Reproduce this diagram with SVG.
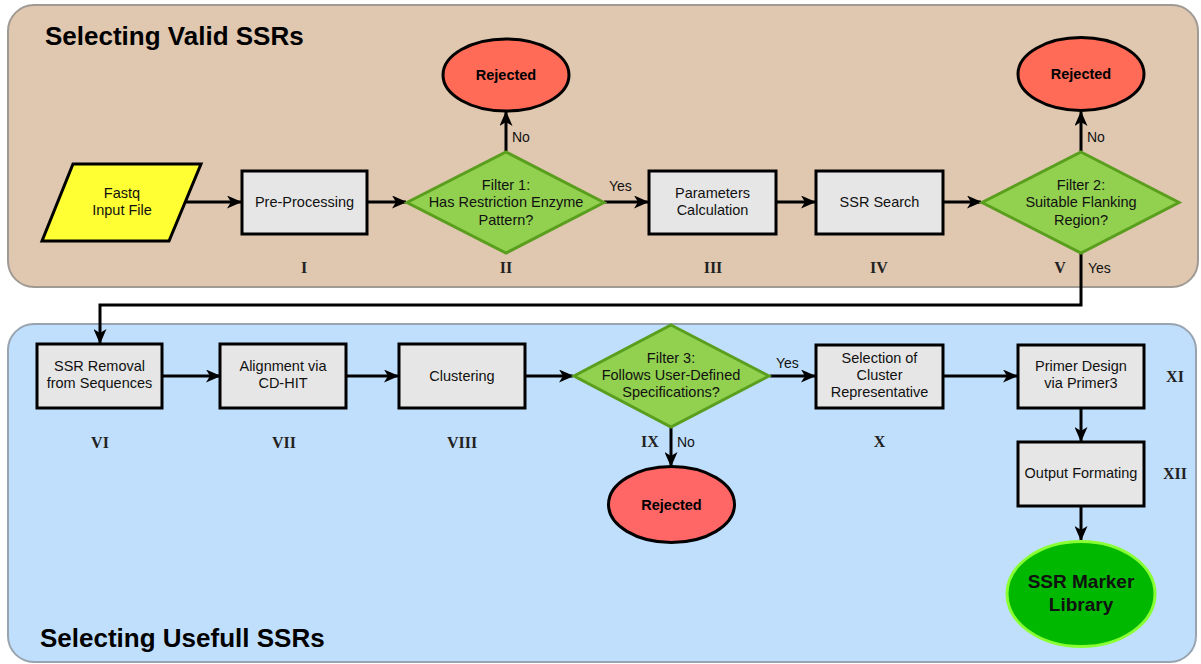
<svg xmlns="http://www.w3.org/2000/svg" width="1201" height="664" viewBox="0 0 1201 664">
<defs>
<marker id="arr" viewBox="0 0 15 13" refX="14" refY="6.5" markerWidth="15" markerHeight="13" markerUnits="userSpaceOnUse" orient="auto">
<path d="M0,0 L15,6.5 L0,13 L4,6.5 Z" fill="#000"/>
</marker>
<style>
text{font-family:"Liberation Sans",Arial,sans-serif;fill:#111}
.t{font-size:14.5px;text-anchor:middle}
.lbl{font-size:14px}
.title{font-size:26px;font-weight:bold;fill:#000}
.rom{font-family:"Liberation Serif","Times New Roman",serif;font-size:16px;font-weight:bold;text-anchor:middle;fill:#222}
.box{fill:#E6E6E6;stroke:#000;stroke-width:3}
.dia{fill:#92D050;stroke:#5A9E1E;stroke-width:3}
.rej{stroke:#000;stroke-width:3}
.rt{font-size:14.5px;font-weight:bold;text-anchor:middle;fill:#000}
.con{fill:none;stroke:#000;stroke-width:3;marker-end:url(#arr)}
</style>
</defs>
<g id="panel-top">
<rect x="8" y="5" width="1190" height="282" rx="26" fill="#DFC7B0" stroke="#A09A94" stroke-width="2"/>
<text class="title" x="45" y="45">Selecting Valid SSRs</text>
</g>
<g id="panel-bottom">
<rect x="8" y="324" width="1188" height="338" rx="26" fill="#C0DFFD" stroke="#98A4B0" stroke-width="2"/>
<text class="title" x="40" y="647">Selecting Usefull SSRs</text>
</g>
<g id="connectors">
<line class="con" x1="185" y1="202" x2="241" y2="202"/>
<line class="con" x1="367" y1="202" x2="406" y2="202"/>
<line class="con" x1="506" y1="151" x2="506" y2="112"/>
<line class="con" x1="604" y1="202" x2="648" y2="202"/>
<line class="con" x1="776" y1="202" x2="815" y2="202"/>
<line class="con" x1="943" y1="202" x2="981" y2="202"/>
<line class="con" x1="1081" y1="151" x2="1081" y2="112"/>
<path class="con" d="M1081,253 V305 H100 V343"/>
<line class="con" x1="162" y1="376" x2="220" y2="376"/>
<line class="con" x1="346" y1="376" x2="398" y2="376"/>
<line class="con" x1="525" y1="376" x2="573" y2="376"/>
<line class="con" x1="770" y1="376" x2="815" y2="376"/>
<line class="con" x1="671" y1="427" x2="671" y2="466"/>
<line class="con" x1="943" y1="376" x2="1017" y2="376"/>
<line class="con" x1="1081" y1="408" x2="1081" y2="441"/>
<line class="con" x1="1081" y1="506" x2="1081" y2="540"/>
<text class="lbl" x="512" y="142">No</text>
<text class="lbl" x="609" y="191">Yes</text>
<text class="lbl" x="1087" y="142">No</text>
<text class="lbl" x="1088" y="273">Yes</text>
<text class="lbl" x="776" y="368">Yes</text>
<text class="lbl" x="677" y="447">No</text>
</g>
<g id="n-fastq">
<polygon points="73,164 201,164 169,241 42,241" fill="#FFFF33" stroke="#000" stroke-width="3"/>
<text class="t" x="122" y="198">Fastq</text>
<text class="t" x="122" y="215">Input File</text>
</g>
<g id="n-preproc">
<rect class="box" x="242" y="171" width="125" height="63"/>
<text class="t" x="304.5" y="207">Pre-Processing</text>
<text class="rom" x="304" y="273">I</text>
</g>
<g id="n-filter1">
<polygon class="dia" points="506,152 604,202.5 506,253 407,202.5"/>
<text class="t" x="506" y="190">Filter 1:</text>
<text class="t" x="506" y="207">Has Restriction Enzyme</text>
<text class="t" x="506" y="225">Pattern?</text>
<text class="rom" x="506" y="273">II</text>
</g>
<g id="n-rej1">
<ellipse class="rej" cx="506" cy="75" rx="63" ry="36" fill="#FF6B57"/>
<text class="rt" x="506" y="80">Rejected</text>
</g>
<g id="n-params">
<rect class="box" x="649" y="171" width="127" height="63"/>
<text class="t" x="712.5" y="198">Parameters</text>
<text class="t" x="712.5" y="215">Calculation</text>
<text class="rom" x="713" y="273">III</text>
</g>
<g id="n-ssrsearch">
<rect class="box" x="816" y="171" width="127" height="63"/>
<text class="t" x="879.5" y="207">SSR Search</text>
<text class="rom" x="879" y="273">IV</text>
</g>
<g id="n-filter2">
<polygon class="dia" points="1081,152 1179,202.5 1081,253 982,202.5"/>
<text class="t" x="1081" y="190">Filter 2:</text>
<text class="t" x="1081" y="207">Suitable Flanking</text>
<text class="t" x="1081" y="225">Region?</text>
<text class="rom" x="1060" y="273">V</text>
</g>
<g id="n-rej2">
<ellipse class="rej" cx="1081" cy="74" rx="63" ry="36.5" fill="#FF6B57"/>
<text class="rt" x="1081" y="79">Rejected</text>
</g>
<g id="n-ssrremoval">
<rect class="box" x="37" y="344" width="125" height="64"/>
<text class="t" x="99.5" y="371">SSR Removal</text>
<text class="t" x="99.5" y="388">from Sequences</text>
<text class="rom" x="100" y="448">VI</text>
</g>
<g id="n-align">
<rect class="box" x="220" y="344" width="126" height="64"/>
<text class="t" x="283" y="371">Alignment via</text>
<text class="t" x="283" y="388">CD-HIT</text>
<text class="rom" x="284" y="448">VII</text>
</g>
<g id="n-cluster">
<rect class="box" x="399" y="344" width="126" height="64"/>
<text class="t" x="462" y="381">Clustering</text>
<text class="rom" x="462" y="448">VIII</text>
</g>
<g id="n-filter3">
<polygon class="dia" points="671,325 769,376 671,427 574,376"/>
<text class="t" x="671" y="363">Filter 3:</text>
<text class="t" x="671" y="380">Follows User-Defined</text>
<text class="t" x="671" y="397">Specifications?</text>
<text class="rom" x="650" y="447">IX</text>
</g>
<g id="n-rej3">
<ellipse class="rej" cx="671.5" cy="504.5" rx="63" ry="38" fill="#FF6666"/>
<text class="rt" x="671.5" y="510">Rejected</text>
</g>
<g id="n-selection">
<rect class="box" x="816" y="345" width="127" height="63"/>
<text class="t" x="879.5" y="363">Selection of</text>
<text class="t" x="879.5" y="380">Cluster</text>
<text class="t" x="879.5" y="397">Representative</text>
<text class="rom" x="879.5" y="447">X</text>
</g>
<g id="n-primer">
<rect class="box" x="1018" y="345" width="126" height="63"/>
<text class="t" x="1081" y="371">Primer Design</text>
<text class="t" x="1081" y="388">via Primer3</text>
<text class="rom" x="1175" y="382">XI</text>
</g>
<g id="n-output">
<rect class="box" x="1018" y="442" width="126" height="64"/>
<text class="t" x="1081" y="478">Output Formating</text>
<text class="rom" x="1175" y="479">XII</text>
</g>
<g id="n-library">
<ellipse cx="1081" cy="594" rx="74" ry="52.5" fill="#00B800" stroke="#88FF33" stroke-width="3"/>
<text x="1081" y="588" font-size="19" font-weight="bold" text-anchor="middle" fill="#000">SSR Marker</text>
<text x="1081" y="611" font-size="19" font-weight="bold" text-anchor="middle" fill="#000">Library</text>
</g>
</svg>
